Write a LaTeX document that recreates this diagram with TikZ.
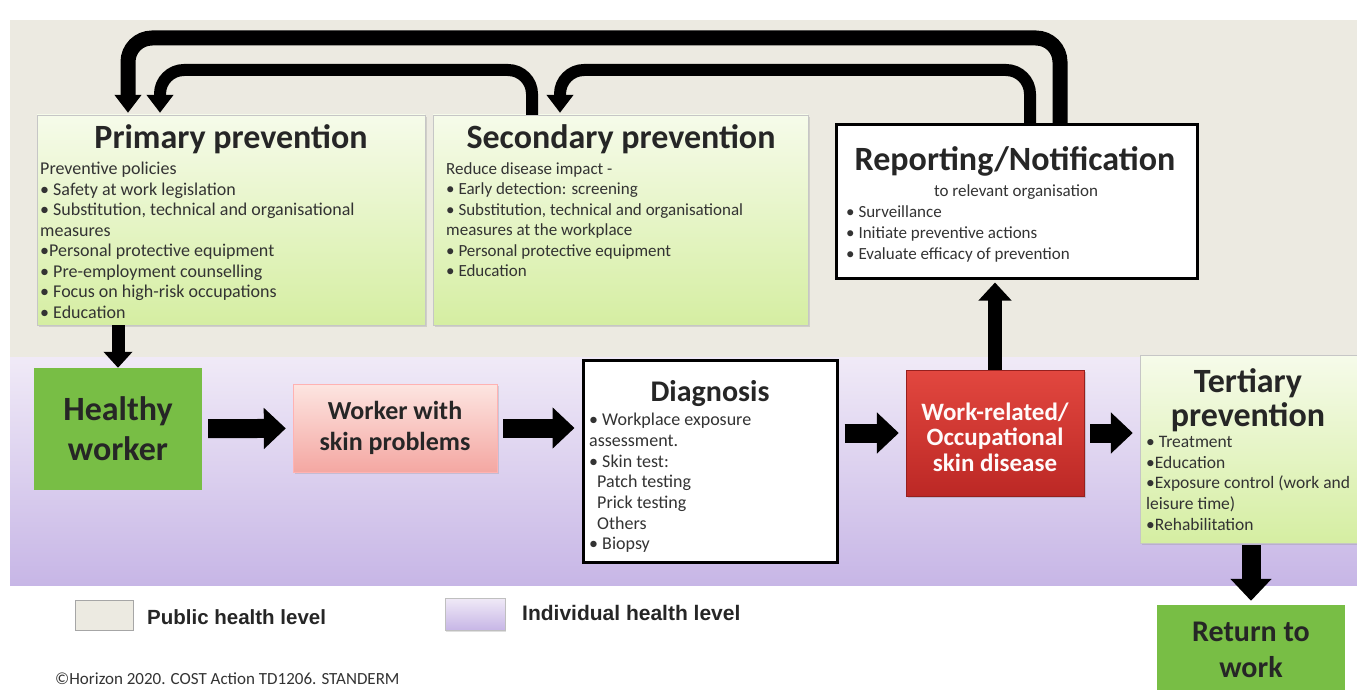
\documentclass[tikz,border=0pt]{standalone}
\usepackage{fontspec}
\setmainfont{Carlito}
\newfontfamily\arialfont{Liberation Sans}
\usetikzlibrary{arrows.meta,shadows}

\definecolor{publicbg}{HTML}{ECEAE1}
\definecolor{indivtop}{HTML}{F0EAF7}
\definecolor{indivbot}{HTML}{C7B6E6}
\definecolor{greentop}{HTML}{F6FBEA}
\definecolor{greenbot}{HTML}{D5EEA2}
\definecolor{healthgreen}{HTML}{78BE45}
\definecolor{pinktop}{HTML}{FDE5E1}
\definecolor{pinkbot}{HTML}{F4A7A2}
\definecolor{redtop}{HTML}{E2473F}
\definecolor{redbot}{HTML}{BC2825}
\definecolor{textgray}{HTML}{333333}

\tikzstyle{band}=[rectangle, inner sep=0pt, anchor=north west]
\tikzstyle{prevbox}=[rectangle, draw=gray!45, top color=greentop, bottom color=greenbot, inner sep=0pt, drop shadow={opacity=0.25, shadow xshift=2pt, shadow yshift=-2pt}]
\tikzstyle{blackbox}=[rectangle, draw=black, line width=3pt, fill=white, inner sep=0pt]
\tikzstyle{greenbox}=[rectangle, fill=healthgreen, inner sep=0pt, align=center, text=black!85]
\tikzstyle{boxtitle}=[font=\bfseries\fontsize{34}{34}\selectfont, text=black!85, inner sep=0pt, align=center]
\tikzstyle{bodytext}=[font=\fontsize{18}{20.5}\selectfont, text=textgray, align=left, inner sep=0pt, anchor=north west]
\tikzstyle{smalltext}=[font=\fontsize{17.5}{20.7}\selectfont, text=textgray, align=left, inner sep=0pt, anchor=north west]
\tikzstyle{bigarrow}=[line width=19pt, -{Triangle[length=22pt, width=40pt]}, shorten <=6pt, shorten >=7pt]
\tikzstyle{downarrow}=[line width=13pt, -{Triangle[length=16pt, width=28pt]}]
\tikzstyle{feedback}=[rounded corners=24pt, -{Triangle[length=18pt, width=26pt]}, shorten >=2pt]
\tikzstyle{legendtext}=[font=\arialfont\bfseries\fontsize{20.5}{22}\selectfont, text=black!85, anchor=west, inner sep=0pt]

\begin{document}
\begin{tikzpicture}[x=1pt, y=-1pt]
  \useasboundingbox (0,0) rectangle (1357,690);
  \fill[white] (0,0) rectangle (1357,690);

  % health levels
  \node[band, fill=publicbg, minimum width=1347pt, minimum height=337pt] (publicband) at (10,20) {};
  \node[band, top color=indivtop, bottom color=indivbot, minimum width=1347pt, minimum height=228pt] (indivband) at (10,357) {};

  % prevention boxes
  \node[prevbox, minimum width=388pt, minimum height=210pt] (primary) at (231,220) {};
  \node[boxtitle, anchor=base] (primtitle) at (231,149) {Primary prevention};
  \node[bodytext] (primtext) at (40,162) {Preventive policies\\
    \textbullet{} Safety at work legislation\\
    \textbullet{} Substitution, technical and organisational\\
    measures\\
    \textbullet Personal protective equipment\\
    \textbullet{} Pre-employment counselling\\
    \textbullet{} Focus on high-risk occupations\\
    \textbullet{} Education};

  \node[prevbox, minimum width=375pt, minimum height=210pt] (secondary) at (620.5,220) {};
  \node[boxtitle, anchor=base] (sectitle) at (621,149) {Secondary prevention};
  \node[bodytext, font=\fontsize{17}{20.5}\selectfont] (sectext) at (446,162) {Reduce disease impact -\\
    \textbullet{} Early detection: screening\\
    \textbullet{} Substitution, technical and organisational\\
    measures at the workplace\\
    \textbullet{} Personal protective equipment\\
    \textbullet{} Education};

  \node[blackbox, minimum width=361pt, minimum height=153pt] (report) at (1016.5,201.5) {};
  \node[boxtitle, anchor=base] (reptitle) at (1015,171) {Reporting/Notification};
  \node[font=\fontsize{17}{17}\selectfont, text=textgray, inner sep=0pt] (repsub) at (1016,192) {to relevant organisation};
  \node[smalltext, font=\fontsize{17}{21}\selectfont] (reptext) at (846,205) {\textbullet{} Surveillance\\
    \textbullet{} Initiate preventive actions\\
    \textbullet{} Evaluate efficacy of prevention};

  % individual path
  \node[greenbox, minimum width=168pt, minimum height=122pt, font=\bfseries\fontsize{34}{40}\selectfont] (healthy) at (118,429) {Healthy\\worker};
  \node[rectangle, draw=red!30, top color=pinktop, bottom color=pinkbot, minimum width=204pt, minimum height=88pt, inner sep=0pt, align=center, text=black!85, font=\bfseries\fontsize{26}{31}\selectfont, drop shadow={opacity=0.25, shadow xshift=2pt, shadow yshift=-2pt}] (worker) at (395,428) {Worker with\\skin problems};

  \node[blackbox, minimum width=254pt, minimum height=202pt] (diag) at (710,461) {};
  \node[boxtitle, anchor=base, font=\bfseries\fontsize{30}{32}\selectfont] (diagtitle) at (710,401) {Diagnosis};
  \node[smalltext, font=\fontsize{18}{20.7}\selectfont] (diagtext) at (589,413) {\textbullet{} Workplace exposure\\
    assessment.\\
    \textbullet{} Skin test:\\
    \hspace*{8pt}Patch testing\\
    \hspace*{8pt}Prick testing\\
    \hspace*{8pt}Others\\
    \textbullet{} Biopsy};

  \node[rectangle, draw=redbot!80!black, top color=redtop, bottom color=redbot, minimum width=178pt, minimum height=126pt, inner sep=0pt, align=center, text=white!92!pink, font=\bfseries\fontsize{25}{25.5}\selectfont, drop shadow={opacity=0.3, shadow xshift=2pt, shadow yshift=-2pt}, text depth=0pt] (work) at (995,433) {};
  \node[inner sep=0pt, align=center, text=white!92!pink, font=\bfseries\fontsize{25}{25.5}\selectfont] (worktext) at (995,437) {Work-related/\\Occupational\\skin disease};

  \node[prevbox, minimum width=222pt, minimum height=188pt] (tert) at (1251,449) {};
  \node[boxtitle, anchor=north] (terttitle) at (1248,368) {Tertiary\\prevention};
  \node[smalltext] (terttext) at (1146,436) {\textbullet{} Treatment\\
    \textbullet Education\\
    \textbullet Exposure control (work and\\
    leisure time)\\
    \textbullet Rehabilitation};

  \node[greenbox, minimum width=188pt, minimum height=90pt, font=\bfseries\fontsize{30}{36}\selectfont] (ret) at (1251,650) {Return to\\work};

  % flow arrows
  \draw[bigarrow] (healthy) -- (worker);
  \draw[bigarrow] (worker) -- (worker -| diag.west);
  \draw[bigarrow] (diag.east |- work) -- (work);
  \draw[bigarrow] (work) -- (work -| tert.west);
  \draw[downarrow] (primary.south -| healthy) -- (healthy.north);
  \draw[downarrow, line width=14pt, -{Triangle[length=18pt, width=32pt]}, shorten >=3pt] (work.north) -- (work.north |- report.south);
  \draw[bigarrow, shorten <=2pt, shorten >=4pt] (tert.south -| ret) -- (ret.north);

  % feedback loops
  \coordinate (outR) at (1060,38);
  \coordinate (outL) at (128,38);
  \coordinate (inAR) at (532,70);
  \coordinate (inAL) at (160,70);
  \coordinate (inBR) at (1030,70);
  \coordinate (inBL) at (560,70);
  \draw[feedback, line width=15pt] (report.north -| outR) -- (outR) -- (outL) -- (primary.north -| outL);
  \draw[feedback, line width=12pt] (secondary.north -| inAR) -- (inAR) -- (inAL) -- (primary.north -| inAL);
  \draw[feedback, line width=12pt] (report.north -| inBR) -- (inBR) -- (inBL) -- (secondary.north -| inBL);

  % legend
  \node[rectangle, draw=gray!70, fill=publicbg, minimum width=58pt, minimum height=30pt] (pubkey) at (104,615) {};
  \node[legendtext] (publabel) at (147,617) {Public health level};
  \node[rectangle, draw=gray!50, top color=indivtop, bottom color=indivbot, minimum width=60pt, minimum height=32pt, drop shadow={opacity=0.25, shadow xshift=1pt, shadow yshift=-2pt}] (indivkey) at (475,614) {};
  \node[legendtext, font=\arialfont\bfseries\fontsize{21}{22}\selectfont] (indivlabel) at (522,613) {Individual health level};
  \node[font=\fontsize{17}{18}\selectfont, text=textgray, anchor=west, inner sep=0pt] (credit) at (55,679) {\textcopyright Horizon 2020. COST Action TD1206. STANDERM};
\end{tikzpicture}
\end{document}
